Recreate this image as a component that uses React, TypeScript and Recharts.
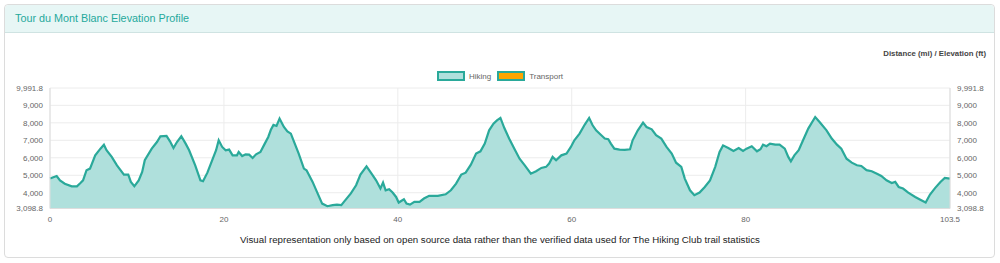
import { AreaChart, Area, XAxis, YAxis, CartesianGrid } from 'recharts'

// distance along the trail (mi)
const distances = [
    0, 0.77, 1.15, 1.7, 2.5, 3.1, 3.5, 3.8, 4.2, 4.6, 5.2, 5.8, 6.2, 6.5, 7.1, 7.7, 8.5, 9.0, 9.3, 9.7,
    10.2, 10.6, 10.9, 11.7, 12.3, 12.7, 13.4, 13.8, 14.2, 14.6, 15.1, 15.6, 16.0, 16.7, 17.3, 17.6, 18.1, 18.6, 19.1, 19.4,
    19.8, 20.2, 20.6, 21.0, 21.5, 21.7, 22.1, 22.5, 22.9, 23.3, 23.7, 24.2, 24.7, 25.1, 25.4, 25.7, 26.05, 26.4, 26.9, 27.3,
    27.7, 28.0, 28.6, 29.2, 29.5, 30.2, 30.7, 31.3, 31.9, 32.5, 33.0, 33.5, 33.8, 34.6, 35.2, 35.7, 36.4, 36.9, 37.5, 38.0,
    38.3, 38.6, 39.0, 39.4, 39.8, 40.1, 40.7, 41.0, 41.4, 41.9, 42.5, 43.0, 43.6, 44.6, 45.5, 46.1, 46.7, 47.3, 47.8, 48.4,
    49.0, 49.5, 50.0, 50.5, 51.0, 51.4, 51.8, 52.25, 52.8, 53.4, 54.0, 54.6, 55.3, 55.9, 56.5, 57.05, 57.4, 57.8, 58.2, 58.8,
    59.4, 59.9, 60.3, 60.9, 61.5, 62.0, 62.4, 62.8, 63.4, 63.8, 64.2, 64.5, 64.9, 65.5, 66.1, 66.7, 67.0, 67.6, 68.2, 68.6,
    69.2, 69.7, 70.3, 70.9, 71.5, 72.0, 72.6, 73.0, 73.6, 74.1, 74.7, 75.3, 75.9, 76.5, 77.0, 77.4, 78.0, 78.6, 79.2, 79.7,
    80.1, 80.7, 81.3, 81.7, 82.0, 82.4, 82.8, 83.4, 83.9, 84.5, 84.9, 85.2, 85.6, 86.1, 86.6, 87.2, 88.0, 88.5, 89.3, 89.9,
    90.5, 91.0, 91.6, 92.2, 92.8, 93.3, 93.9, 94.5, 95.1, 95.6, 96.2, 96.8, 97.2, 97.6, 98.1, 98.7, 99.5, 100.2, 100.7, 101.2,
    101.8, 102.4, 102.9, 103.5,
]

// elevation (ft)
const elevations = [
    4810, 4960, 4710, 4520, 4370, 4370, 4560, 4710, 5290, 5380, 6140, 6520, 6750, 6430, 6050, 5570, 5040, 5040, 4620, 4370,
    4710, 5190, 5860, 6520, 6900, 7230, 7250, 6940, 6560, 6900, 7230, 6810, 6430, 5570, 4710, 4660, 5150, 5800, 6430, 7000,
    6620, 6430, 6470, 6140, 6140, 6330, 6100, 6200, 6180, 5990, 6200, 6330, 6810, 7190, 7600, 7880, 7820, 8240, 7760, 7510,
    7380, 7000, 6240, 5380, 5290, 4620, 4050, 3380, 3230, 3290, 3320, 3290, 3480, 3960, 4430, 5040, 5510, 5150, 4710, 4240,
    4580, 4140, 4200, 4010, 3760, 3440, 3630, 3380, 3320, 3480, 3480, 3670, 3820, 3820, 3910, 4140, 4520, 5040, 5150, 5610,
    6240, 6370, 6810, 7570, 7950, 8140, 8280, 7700, 7100, 6520, 5950, 5570, 5090, 5230, 5420, 5480, 5670, 6050, 5860, 6140,
    6240, 6620, 7000, 7380, 7900, 8280, 7860, 7570, 7290, 7100, 7060, 6810, 6520, 6470, 6450, 6490, 7000, 7570, 8010, 7760,
    7630, 7290, 7100, 6620, 6240, 5720, 5480, 4810, 4140, 3860, 4010, 4330, 4710, 5480, 6330, 6710, 6560, 6390, 6560, 6390,
    6520, 6660, 6370, 6490, 6750, 6660, 6810, 6750, 6750, 6520, 6050, 5800, 6140, 6430, 7000, 7670, 8330, 8050, 7570, 7100,
    6750, 6520, 5950, 5720, 5570, 5530, 5290, 5230, 5090, 4960, 4710, 4560, 4620, 4330, 4240, 4010, 3760, 3570, 3440, 3900,
    4280, 4620, 4850, 4810,
]

const distanceTicks = [0, 20, 40, 60, 80, 103.5]
const elevationTicks = [3098.8, 4000, 5000, 6000, 7000, 8000, 9000, 9991.8]

const data = distances.map((d, i) => ({ distance: d, elevation: elevations[i] }))

const font = '"Liberation Sans", Arial, Helvetica, sans-serif'
const fmt = (v: number) => v.toLocaleString('en-US', { maximumFractionDigits: 1 })

const tickStyle = { fontSize: 8, fill: '#666', fontFamily: font }

export default function App() {
    return (
        <div style={{ position: 'absolute', left: 0, top: 0, width: 1000, height: 263, fontFamily: font }}>
            <div
                style={{
                    position: 'absolute', left: 4, top: 4, width: 989, height: 252,
                    border: '1px solid #dcdcdc', borderRadius: 4, background: '#fff',
                }}
            >
                <div
                    style={{
                        height: 27, background: '#e7f6f5', borderBottom: '1px solid #cfe3e2',
                        borderRadius: '4px 4px 0 0', color: '#25a99c', fontSize: 10.8,
                        lineHeight: '27px', paddingLeft: 10,
                    }}
                >
                    Tour du Mont Blanc Elevation Profile
                </div>
            </div>

            <div
                style={{
                    position: 'absolute', right: 14, top: 49, fontSize: 7.8, fontWeight: 'bold', color: '#444',
                }}
            >
                Distance (mi) / Elevation (ft)
            </div>

            <div
                style={{
                    position: 'absolute', left: 0, top: 71, width: 1000, display: 'flex',
                    justifyContent: 'center', alignItems: 'center', fontSize: 8, color: '#666',
                }}
            >
                <span style={{ width: 24, height: 6, border: '2px solid #2aa99a', background: '#afe0dc', marginRight: 4 }} />
                <span style={{ marginRight: 6 }}>Hiking</span>
                <span style={{ width: 24, height: 6, border: '2px solid #2aa99a', background: '#ffa500', marginRight: 4 }} />
                <span>Transport</span>
            </div>

            <div style={{ position: 'absolute', left: 0, top: 0 }}>
                <AreaChart
                    width={1000}
                    height={263}
                    data={data}
                    margin={{ top: 88, right: 10, bottom: 24.5, left: 10 }}
                >
                    <CartesianGrid stroke="#ececec" />
                    <XAxis
                        dataKey="distance"
                        type="number"
                        domain={[0, 103.5]}
                        ticks={distanceTicks}
                        interval={0}
                        height={30}
                        tickLine={false}
                        tickSize={5}
                        tickMargin={3}
                        axisLine={{ stroke: '#ddd' }}
                        tick={tickStyle}
                        tickFormatter={fmt}
                    />
                    <YAxis
                        yAxisId={0}
                        type="number"
                        domain={[3098.8, 9991.8]}
                        ticks={elevationTicks}
                        interval={0}
                        width={40}
                        tickLine={false}
                        tickSize={5}
                        tickMargin={2}
                        axisLine={{ stroke: '#ddd' }}
                        tick={tickStyle}
                        tickFormatter={fmt}
                        allowDataOverflow
                    />
                    <YAxis
                        yAxisId="right"
                        orientation="right"
                        type="number"
                        domain={[3098.8, 9991.8]}
                        ticks={elevationTicks}
                        interval={0}
                        width={40}
                        tickLine={false}
                        tickSize={5}
                        tickMargin={2}
                        axisLine={{ stroke: '#ddd' }}
                        tick={{ ...tickStyle, textAnchor: 'start' }}
                        tickFormatter={fmt}
                        allowDataOverflow
                    />
                    <Area
                        yAxisId={0}
                        type="linear"
                        dataKey="elevation"
                        stroke="#2aa99a"
                        strokeWidth={2.2}
                        fill="#afe0dc"
                        fillOpacity={1}
                        baseValue={3098.8}
                        dot={false}
                        activeDot={false}
                        isAnimationActive={false}
                    />
                </AreaChart>
            </div>

            <div
                style={{
                    position: 'absolute', left: 0, top: 234, width: 1000, textAlign: 'center',
                    fontSize: 9.7, color: '#222',
                }}
            >
                Visual representation only based on open source data rather than the verified data used for The Hiking Club trail statistics
            </div>
        </div>
    )
}
